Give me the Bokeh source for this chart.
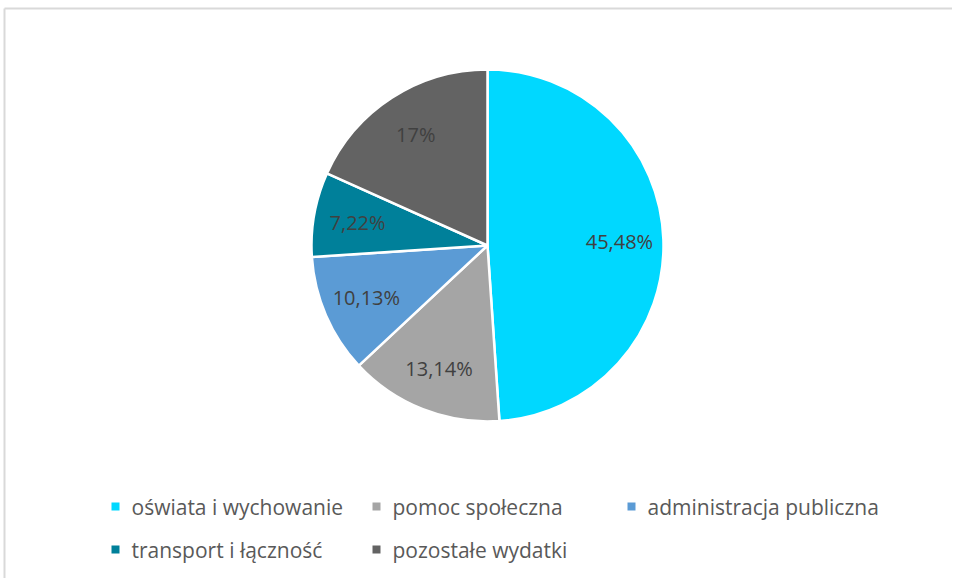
import math
from bokeh.plotting import figure
from bokeh.models import Range1d, ColumnDataSource
from bokeh.core.properties import value
from bokeh.embed import file_html
from bokeh.resources import INLINE

categories = ["oświata i wychowanie", "pomoc społeczna", "administracja publiczna",
              "transport i łączność", "pozostałe wydatki"]
values = [45.48, 13.14, 10.13, 7.22, 17.0]
labels = ["45,48%", "13,14%", "10,13%", "7,22%", "17%"]
colors = ["#00D8FF", "#A5A5A5", "#5B9BD5", "#00809A", "#636363"]

W, H = 952, 578
p = figure(width=W, height=H, output_backend="svg", toolbar_location=None,
           x_range=Range1d(0, W), y_range=Range1d(0, H), min_border=0,
           border_fill_color="white")
p.axis.visible = False
p.grid.visible = False
p.outline_line_color = None
p.outline_line_alpha = 0
p.background_fill_color = "white"

def Y(py):
    return H - py

cx, cy, r = 487, Y(245), 176
total = sum(values)
starts, ends, lx, ly = [], [], [], []
cum = 0.0
for v in values:
    f0 = cum / total
    cum += v
    f1 = cum / total
    starts.append(math.pi / 2 - 2 * math.pi * f0)
    ends.append(math.pi / 2 - 2 * math.pi * f1)
    mid = 2 * math.pi * (f0 + f1) / 2
    lx.append(cx + 0.75 * r * math.sin(mid))
    ly.append(cy + 0.75 * r * math.cos(mid))

src = ColumnDataSource(dict(start=starts, end=ends, color=colors, lx=lx, ly=ly, label=labels))
p.wedge(x=cx, y=cy, radius=r, start_angle="start", end_angle="end", direction="clock",
        fill_color="color", line_color="white", line_width=2.5, source=src)
p.text(x="lx", y="ly", text="label", source=src, text_align="center", text_baseline="middle",
       text_color="#404040", text_font=value("Open Sans"), text_font_size="20px")

# legend
col_x = [115, 376, 631]
row_y = [Y(506), Y(549)]
mx, my, tx, ty = [], [], [], []
for i, c in enumerate(categories):
    col, row = i % 3, i // 3
    mx.append(col_x[col])
    my.append(row_y[row])
    tx.append(col_x[col] + 16)
    ty.append(row_y[row])
lsrc = ColumnDataSource(dict(mx=mx, my=my, tx=tx, ty=ty, color=colors, name=categories))
p.scatter(x="mx", y="my", marker="square", size=8, fill_color="color", line_color=None, source=lsrc)
p.text(x="tx", y="ty", text="name", source=lsrc, text_align="left", text_baseline="middle",
       text_color="#595959", text_font=value("Open Sans"), text_font_size="21px")

# chart-area border (top and left edges only, as visible in the reference)
p.segment(x0=[4, 4], y0=[Y(8), Y(8)], x1=[W, 4], y1=[Y(8), 0],
          line_color="#D9D9D9", line_width=2)

open("out.html", "w").write(file_html(p, INLINE))
